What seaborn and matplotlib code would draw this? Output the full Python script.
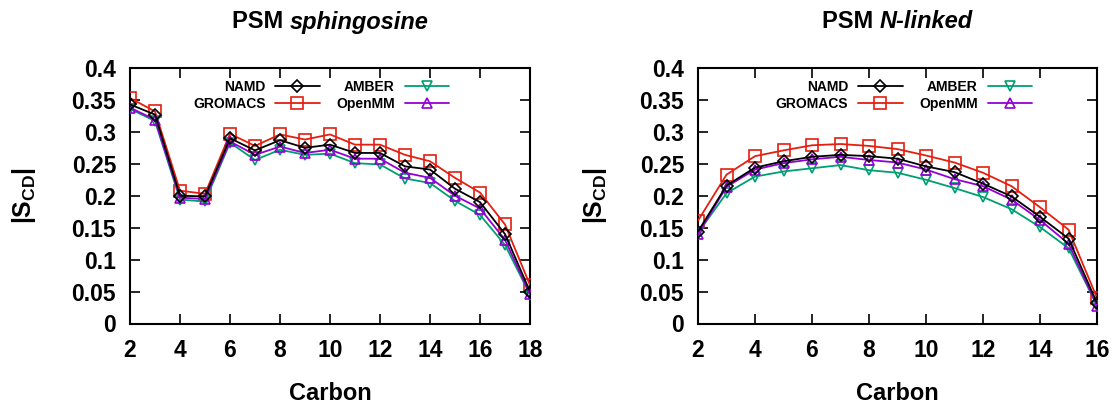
import matplotlib
matplotlib.use("Agg")
import matplotlib.pyplot as plt
import seaborn as sns

# ---------------- data ----------------
carbons_sph = list(range(2, 19))
namd_sph = [0.343, 0.327, 0.200, 0.199, 0.290, 0.271, 0.287, 0.275, 0.280, 0.267, 0.267, 0.246, 0.241, 0.211, 0.190, 0.140, 0.050]
gromacs_sph = [0.353, 0.332, 0.208, 0.203, 0.297, 0.278, 0.296, 0.288, 0.296, 0.280, 0.280, 0.264, 0.254, 0.228, 0.205, 0.155, 0.060]
amber_sph = [0.336, 0.317, 0.194, 0.191, 0.283, 0.256, 0.272, 0.264, 0.266, 0.251, 0.249, 0.227, 0.220, 0.192, 0.170, 0.123, 0.045]
openmm_sph = [0.338, 0.319, 0.197, 0.195, 0.285, 0.264, 0.277, 0.267, 0.272, 0.258, 0.258, 0.236, 0.228, 0.200, 0.180, 0.131, 0.046]

carbons_nl = list(range(2, 17))
namd_nl = [0.144, 0.216, 0.244, 0.254, 0.261, 0.264, 0.262, 0.258, 0.246, 0.237, 0.219, 0.199, 0.167, 0.133, 0.032]
gromacs_nl = [0.161, 0.233, 0.262, 0.271, 0.279, 0.281, 0.278, 0.273, 0.263, 0.252, 0.236, 0.215, 0.182, 0.147, 0.040]
amber_nl = [0.142, 0.204, 0.230, 0.238, 0.243, 0.248, 0.240, 0.236, 0.225, 0.212, 0.198, 0.179, 0.151, 0.118, 0.028]
openmm_nl = [0.140, 0.214, 0.241, 0.251, 0.257, 0.261, 0.256, 0.252, 0.241, 0.226, 0.215, 0.194, 0.162, 0.125, 0.028]

series_names = ["NAMD", "GROMACS", "AMBER", "OpenMM"]
colors = {"NAMD": "#000000", "GROMACS": "#e51e10", "AMBER": "#009e73", "OpenMM": "#9400d3"}
markers = {"NAMD": "D", "GROMACS": "s", "AMBER": "v", "OpenMM": "^"}
msizes = {"NAMD": 6.3, "GROMACS": 8.0, "AMBER": 7.8, "OpenMM": 7.8}
zorders = {"NAMD": 6, "GROMACS": 3, "AMBER": 4, "OpenMM": 5}

y_ticks = [0, 0.05, 0.1, 0.15, 0.2, 0.25, 0.3, 0.35, 0.4]
y_ticklabels = ["0", "0.05", "0.1", "0.15", "0.2", "0.25", "0.3", "0.35", "0.4"]

panels = [
    dict(title=("PSM ", "sphingosine"), x=carbons_sph,
         ys={"NAMD": namd_sph, "GROMACS": gromacs_sph, "AMBER": amber_sph, "OpenMM": openmm_sph},
         xlim=(2, 18), xticks=list(range(2, 19, 2)), pos=[130, 400], leg_right=449, ylab_x=24),
    dict(title=("PSM ", "N-linked"), x=carbons_nl,
         ys={"NAMD": namd_nl, "GROMACS": gromacs_nl, "AMBER": amber_nl, "OpenMM": openmm_nl},
         xlim=(2, 16), xticks=list(range(2, 17, 2)), pos=[698, 399], leg_right=1032, ylab_x=595),
]

# ---------------- style ----------------
sns.set_style("ticks")
plt.rcParams["font.family"] = ["Liberation Sans", "DejaVu Sans"]
plt.rcParams["font.weight"] = "bold"
plt.rcParams["text.color"] = "black"
plt.rcParams["axes.labelcolor"] = "black"
plt.rcParams["xtick.color"] = "black"
plt.rcParams["ytick.color"] = "black"
plt.rcParams["mathtext.fontset"] = "custom"
plt.rcParams["mathtext.rm"] = "Liberation Sans:bold"
plt.rcParams["mathtext.it"] = "Liberation Sans:italic:bold"
plt.rcParams["mathtext.bf"] = "Liberation Sans:bold"

W, H = 1117, 405
fig = plt.figure(figsize=(W / 100, H / 100), dpi=100)
renderer = fig.canvas.get_renderer()

ax_bottom_px = 323.5
ax_top_px = 68.0
ax_h = ax_bottom_px - ax_top_px

for p in panels:
    left, width = p["pos"]
    ax = fig.add_axes([left / W, (H - ax_bottom_px) / H, width / W, ax_h / H])
    for name in series_names:
        c = colors[name]
        sns.lineplot(x=p["x"], y=p["ys"][name], ax=ax, color=c, linewidth=1.3,
                     marker=markers[name], markersize=msizes[name],
                     markerfacecolor="none", markeredgecolor=c, markeredgewidth=1.2,
                     label=name, zorder=zorders[name], legend=False)
    ax.set_xlim(*p["xlim"])
    ax.set_ylim(0, 0.4)
    ax.set_xticks(p["xticks"])
    ax.set_yticks(y_ticks)
    ax.set_yticklabels(y_ticklabels)
    ax.tick_params(direction="in", length=7, width=1.2, top=True, right=True,
                   labelsize=16.5, color="black", labelcolor="black")
    ax.tick_params(axis="x", pad=11)
    ax.tick_params(axis="y", pad=10)
    for s in ax.spines.values():
        s.set_linewidth(1.5)
        s.set_color("black")
        s.set_visible(True)
    for lab in ax.get_xticklabels() + ax.get_yticklabels():
        lab.set_fontweight("bold")

    ax.set_xlabel("Carbon", fontsize=17, fontweight="bold", color="black")
    ax.xaxis.label.set_va("center")
    ax.xaxis.set_label_coords(0.5, (ax_bottom_px - 393) / ax_h)
    ax.set_ylabel(r"|S$_{\mathregular{CD}}$|", fontsize=18, fontweight="bold", color="black")
    ax.yaxis.label.set_va("center")
    ax.yaxis.set_label_coords((p["ylab_x"] - left) / width, 0.5)

    # legend: 2 columns, labels right-aligned before handles
    lab_map = {h.get_label(): h for h in ax.get_lines()}
    hs = [lab_map[n] for n in series_names]
    lx = (p["leg_right"] - left) / width
    ly = (ax_bottom_px - 80) / ax_h
    leg = ax.legend(hs, series_names, ncol=2, markerfirst=False, frameon=False,
                    loc="upper right", bbox_to_anchor=(lx, ly), borderaxespad=0, borderpad=0,
                    handlelength=3.2, handletextpad=0.7, columnspacing=1.2, labelspacing=0.2,
                    prop={"weight": "bold", "size": 10})
    for t in leg.get_texts():
        t.set_color("black")

    # two-part title: bold + bold italic
    cx = (left + width / 2) / W
    cy = (H - 22) / H
    t1 = fig.text(cx, cy, p["title"][0], ha="left", va="center", fontsize=17,
                  fontweight="bold", color="black")
    t2 = fig.text(cx, cy, p["title"][1], ha="left", va="center", fontsize=17,
                  fontweight="bold", fontstyle="italic", color="black")
    w1 = t1.get_window_extent(renderer).width
    w2 = t2.get_window_extent(renderer).width
    start = cx * W - (w1 + w2) / 2
    t1.set_x(start / W)
    t2.set_x((start + w1) / W)

fig.savefig("out.png", dpi=100)
